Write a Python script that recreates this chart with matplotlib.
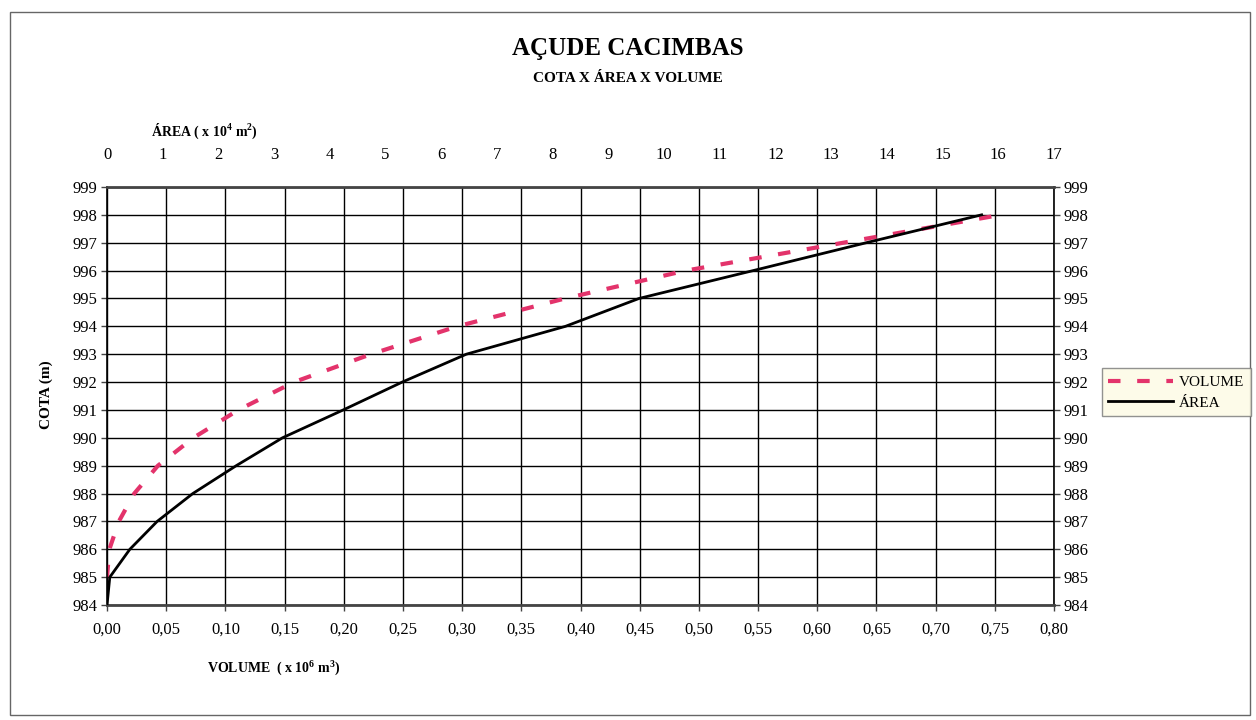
import matplotlib
matplotlib.use("Agg")
import matplotlib.pyplot as plt
from matplotlib.patches import Rectangle
import numpy as np

plt.rcParams['font.family'] = ['Liberation Serif', 'DejaVu Serif']
plt.rcParams['mathtext.fontset'] = 'custom'
plt.rcParams['mathtext.rm'] = 'Liberation Serif:bold'
plt.rcParams['mathtext.bf'] = 'Liberation Serif:bold'

# COTA (m)
cota_area = [984, 985, 986, 987, 988, 989, 990, 991, 992, 993, 994, 995, 996, 997, 998]
area = [0.0, 0.05, 0.41, 0.90, 1.54, 2.32, 3.15, 4.24, 5.30, 6.45, 8.23, 9.55, 11.6, 13.63, 15.7]

cota_vol = [985, 986, 987, 988, 989, 990, 991, 992, 993, 994, 995, 996, 997, 998]
volume = [0.0, 0.002, 0.010, 0.023, 0.043, 0.073, 0.111, 0.158, 0.223, 0.296, 0.387, 0.489, 0.622, 0.755]

cota_ticks = list(range(984, 1000))
vol_ticks = [i * 0.05 for i in range(17)]
area_ticks = list(range(18))

fig = plt.figure(figsize=(12.56, 7.2), dpi=100)
fig.patches.append(Rectangle((0.008, 0.007), 0.987, 0.976, transform=fig.transFigure,
                             fill=False, edgecolor='#666666', linewidth=1))

ax = fig.add_axes([0.0852, 0.1597, 0.754, 0.5806])
ax.set_xlim(0, 0.80)
ax.set_ylim(984, 999)
ax.set_xticks(vol_ticks)
ax.set_xticklabels([("%.2f" % v).replace(".", ",") for v in vol_ticks])
ax.set_yticks(cota_ticks)
ax.grid(True, color='black', linewidth=1)
ax.tick_params(axis='both', labelsize=12, length=4, width=1, color='#444444')
ax.tick_params(axis='y', right=True, labelright=True, pad=3)
ax.tick_params(axis='x', pad=8)
for s in ['top', 'bottom']:
    ax.spines[s].set_linewidth(2)
    ax.spines[s].set_color('#444444')
for s in ['left', 'right']:
    ax.spines[s].set_linewidth(1.2)

vol_line, = ax.plot(volume, cota_vol, color='#e3336b', linewidth=3, dashes=(3, 4), label='VOLUME')

ax2 = ax.twiny()
ax2.set_xlim(0, 17)
ax2.set_xticks(area_ticks)
ax2.tick_params(axis='x', length=0, labelsize=12, pad=17)
for s in ax2.spines.values():
    s.set_visible(False)
area_line, = ax2.plot(area, cota_area, color='black', linewidth=2, label='ÁREA')

fig.text(0.5, 0.933, 'AÇUDE CACIMBAS', ha='center', va='center', fontsize=18, fontweight='bold')
fig.text(0.5, 0.891, 'COTA X ÁREA X VOLUME', ha='center', va='center', fontsize=11, fontweight='bold')
fig.text(0.163, 0.818, r'ÁREA ( x 10$^4$ m$^2$)', ha='center', va='center', fontsize=10, fontweight='bold')
fig.text(0.218, 0.073, r'VOLUME  ( x 10$^6$ m$^3$)', ha='center', va='center', fontsize=10, fontweight='bold')
fig.text(0.037, 0.452, 'COTA (m)', ha='center', va='center', rotation=90, fontsize=11, fontweight='bold')

leg = fig.legend(handles=[vol_line, area_line], loc='center left', bbox_to_anchor=(0.877, 0.455),
                 fontsize=11, frameon=True, fancybox=False, edgecolor='#777777',
                 handlelength=4.2, handletextpad=0.4, borderpad=0.45, labelspacing=0.45,
                 borderaxespad=0)
leg.get_frame().set_facecolor('#fdfbe4')
leg.get_frame().set_linewidth(1)

fig.savefig('out.png', dpi=100)
